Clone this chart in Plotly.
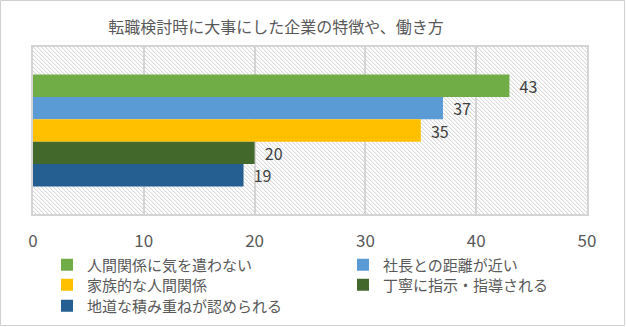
import base64
import plotly.graph_objects as go

title = "転職検討時に大事にした企業の特徴や、働き方"
series_names = ["人間関係に気を遣わない", "社長との距離が近い", "家族的な人間関係",
                "丁寧に指示・指導される", "地道な積み重ねが認められる"]
series_values = [43, 37, 35, 20, 19]
series_colors = ["#70AD47", "#5B9BD5", "#FFC000", "#43682B", "#255E91"]
category = [""]
x_ticks = [0, 10, 20, 30, 40, 50]

W, H = 626, 327
ML, MR, MT, MB = 33, 39, 47, 113
PW, PH = W - ML - MR, H - MT - MB

FONT = "Noto Sans CJK JP"

# legend slot layout (column text-start x, row center y) in pixels
legend_slots = [(87, 265), (383, 265), (87, 285), (383, 285), (87, 306)]
LEG_DY = 0

# hatched plot background (decoration)
svg = f'''<svg xmlns="http://www.w3.org/2000/svg" width="{PW}" height="{PH}" viewBox="0 0 {PW} {PH}">
<defs><pattern id="h" width="4" height="4" patternUnits="userSpaceOnUse">
<rect width="4" height="4" fill="#ffffff"/>
<rect x="0" y="0" width="1" height="1" fill="#dadada"/>
<rect x="1" y="1" width="1" height="1" fill="#dadada"/>
<rect x="2" y="2" width="1" height="1" fill="#dadada"/>
<rect x="3" y="3" width="1" height="1" fill="#dadada"/>
<rect x="1" y="0" width="1" height="1" fill="#f3f3f3"/>
<rect x="2" y="1" width="1" height="1" fill="#f3f3f3"/>
<rect x="3" y="2" width="1" height="1" fill="#f3f3f3"/>
<rect x="0" y="3" width="1" height="1" fill="#f3f3f3"/>
</pattern></defs>
<rect width="{PW}" height="{PH}" fill="url(#h)" shape-rendering="crispEdges"/>
</svg>'''
src = "data:image/svg+xml;base64," + base64.b64encode(svg.encode()).decode()

fig = go.Figure()
legend_layout = {}
for i, (name, val, col) in enumerate(zip(series_names, series_values, series_colors)):
    lg = "legend" if i == 0 else f"legend{i + 1}"
    fig.add_trace(go.Bar(
        y=category, x=[val], name=name, orientation="h",
        marker=dict(color=col, line=dict(width=0)),
        text=[val], texttemplate="  %{x}", textposition="outside",
        textfont=dict(size=16, color="#404040", family=FONT),
        constraintext="none", cliponaxis=False, legend=lg, showlegend=True,
    ))
    tx, ty = legend_slots[i]
    legend_layout[lg] = dict(
        orientation="v", x=(tx - 40 - ML) / PW, xanchor="left",
        y=(MT + PH - ty - LEG_DY) / PH, yanchor="middle",
        font=dict(size=15, color="#595959", family=FONT),
        bgcolor="rgba(0,0,0,0)", borderwidth=0, visible=True)

fig.update_layout(
    width=W, height=H, showlegend=True,
    margin=dict(l=ML, r=MR, t=MT, b=MB, pad=0, autoexpand=False),
    paper_bgcolor="white", plot_bgcolor="rgba(0,0,0,0)",
    barmode="group", bargap=0.33, bargroupgap=0,
    font=dict(family=FONT, color="#595959"),
    title=dict(text=title, x=276 / W, xanchor="center", y=1 - 27 / H, yanchor="middle",
               xref="container", yref="container",
               font=dict(size=16, color="#595959", family=FONT)),
    xaxis=dict(range=[0, 50], tickvals=x_ticks, showgrid=True, gridcolor="#d4d4d4",
               gridwidth=1.5, zeroline=False, showline=True, linecolor="#d4d4d4",
               linewidth=1.5, mirror=True, ticks="", tickfont=dict(size=17, color="#595959"),
               ticklabelstandoff=11),
    yaxis=dict(autorange="reversed", showticklabels=False, showgrid=False, zeroline=False,
               showline=True, linecolor="#d4d4d4", linewidth=1.5, mirror=True, ticks=""),
    images=[dict(source=src, xref="paper", yref="paper", x=0, y=1, sizex=1, sizey=1,
                 xanchor="left", yanchor="top", sizing="stretch", layer="below")],
    shapes=[dict(type="rect", xref="paper", yref="paper",
                 x0=(0.5 - ML) / PW, x1=(624.5 - ML) / PW,
                 y0=(MT + PH - 325.5) / PH, y1=(MT + PH - 0.5) / PH,
                 line=dict(color="#d0d0d0", width=1), fillcolor="rgba(0,0,0,0)", layer="below")],
    **legend_layout,
)

fig.write_html("out.html")
